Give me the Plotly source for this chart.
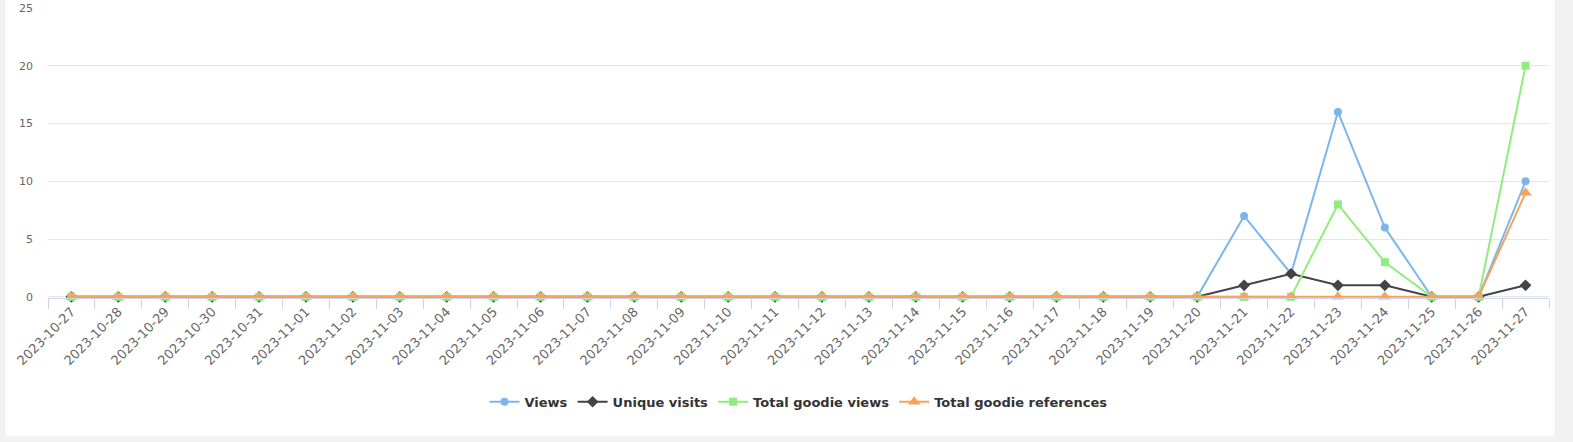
import pandas as pd
import plotly.graph_objects as go

# dates shown on the x axis
dates = [d.strftime("%Y-%m-%d") for d in pd.date_range("2023-10-27", "2023-11-27")]

# series values
views = [0] * 25 + [7, 2, 16, 6, 0, 0, 10]
unique_visits = [0] * 25 + [1, 2, 1, 1, 0, 0, 1]
goodie_views = [0] * 25 + [0, 0, 8, 3, 0, 0, 20]
goodie_refs = [0] * 25 + [0, 0, 0, 0, 0, 0, 9]

series = [
    ("Views", views, "#7cb5ec", "circle", 8),
    ("Unique visits", unique_visits, "#434348", "diamond", 9),
    ("Total goodie views", goodie_views, "#90ed7d", "square", 8),
    ("Total goodie references", goodie_refs, "#f7a35c", "triangle-up", 11),
]

FONT = "DejaVu Sans"

fig = go.Figure()
for name, vals, color, symbol, msize in series:
    fig.add_trace(go.Scatter(
        x=dates, y=vals, name=name, mode="lines+markers",
        line=dict(color=color, width=2),
        marker=dict(color=color, symbol=symbol, size=msize, line=dict(width=0)),
        cliponaxis=False,
    ))

# page look: grey background with a white card behind the chart
W, H = 1573, 442
y_lo, y_hi = -0.1, 25
unit = 289 / 25  # px per y unit, 0 sits at 297 px, 25 at 8 px
ml, mr, mt = 47.5, 23.5, 8
ph = (y_hi - y_lo) * unit
mb = H - mt - ph
pw = W - ml - mr


def px_x(p):
    return (p - ml) / pw


def px_y(p):
    return (H - mb - p) / ph


fig.add_shape(type="rect", xref="paper", yref="paper",
              x0=px_x(5), x1=px_x(1555), y0=px_y(436), y1=px_y(-5),
              fillcolor="white", line=dict(width=0), layer="below")

fig.update_layout(
    width=W, height=H,
    margin=dict(l=ml, r=mr, t=mt, b=mb, autoexpand=False),
    paper_bgcolor="#f2f2f2",
    plot_bgcolor="white",
    font=dict(family=FONT, color="#666666", size=11),
    showlegend=True,
    legend=dict(orientation="h", x=0.5, xanchor="center", y=px_y(402), yanchor="middle",
                font=dict(size=13, color="#333333", family=FONT, weight="bold"),
                bgcolor="rgba(0,0,0,0)", itemwidth=30),
)

fig.update_xaxes(
    type="category", tickangle=-45, showgrid=False, automargin=False,
    showline=True, linecolor="#ccd6eb", linewidth=1,
    ticks="outside", tickson="boundaries", ticklen=10, tickcolor="#ccd6eb",
    tickfont=dict(size=13, color="#666666"),
    range=[-0.5, len(dates) - 0.5],
)
fig.update_yaxes(
    range=[y_lo, y_hi], dtick=5, showgrid=True, gridcolor="#e6e6e6",
    zeroline=False, showline=False, ticks="", automargin=False,
    ticklabelstandoff=14,
    tickfont=dict(size=11, color="#666666"),
)

# drop the browser's default body margin so the figure fills the window
fig.write_html("out.html", config={"displayModeBar": False},
               post_script="document.body.style.margin='0';")
